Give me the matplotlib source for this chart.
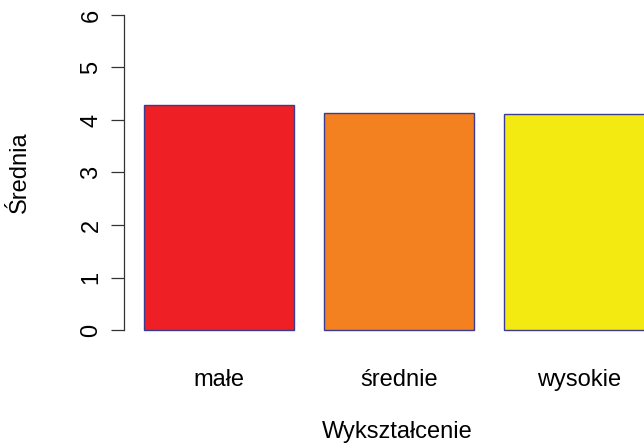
import matplotlib.pyplot as plt
import numpy as np

# data
kategorie = ['małe', 'średnie', 'wysokie']
srednie = [4.29, 4.13, 4.11]
kolory = ['#EE1F25', '#F48120', '#F2EA10']
yticks = [0, 1, 2, 3, 4, 5, 6]

plt.rcParams['font.family'] = ['Liberation Sans', 'DejaVu Sans']

fig = plt.figure(figsize=(6.44, 4.48), dpi=100)
# R-style plot region, extends past the right edge like the reference
ax = fig.add_axes([124 / 644, 105.4 / 448, 550 / 644, 340.2 / 448])

# R barplot geometry: width 1, space 0.2
x = 0.2 + np.arange(len(srednie)) * 1.2 + 0.5
ax.bar(x, srednie, width=1.0, color=kolory, edgecolor='#3B3B8F', linewidth=1.0)

ax.set_xlim(0.064, 3.736)
ax.set_ylim(-0.24, 6.24)

for s in ['top', 'right', 'bottom']:
    ax.spines[s].set_visible(False)
ax.spines['left'].set_bounds(0, 6)
ax.spines['left'].set_linewidth(0.9)
ax.spines['left'].set_color('#333333')

ax.set_yticks(yticks)
ax.set_yticklabels([str(t) for t in yticks], rotation=90, va='center', fontsize=17)
ax.tick_params(axis='y', length=9.5, width=0.9, color='#333333', pad=6)

ax.set_xticks(x)
ax.set_xticklabels(kategorie, fontsize=17)
ax.tick_params(axis='x', length=0, pad=19)

ax.set_xlabel('Wykształcenie', fontsize=17, va='center')
ax.set_ylabel('Średnia', fontsize=17, va='center')
ax.xaxis.set_label_coords((397 - 124) / 550, -(432 - 342.6) / 340.2)
ax.yaxis.set_label_coords(-(124 - 20) / 550, (342.6 - 172) / 340.2)

fig.savefig('out.png', dpi=100)
